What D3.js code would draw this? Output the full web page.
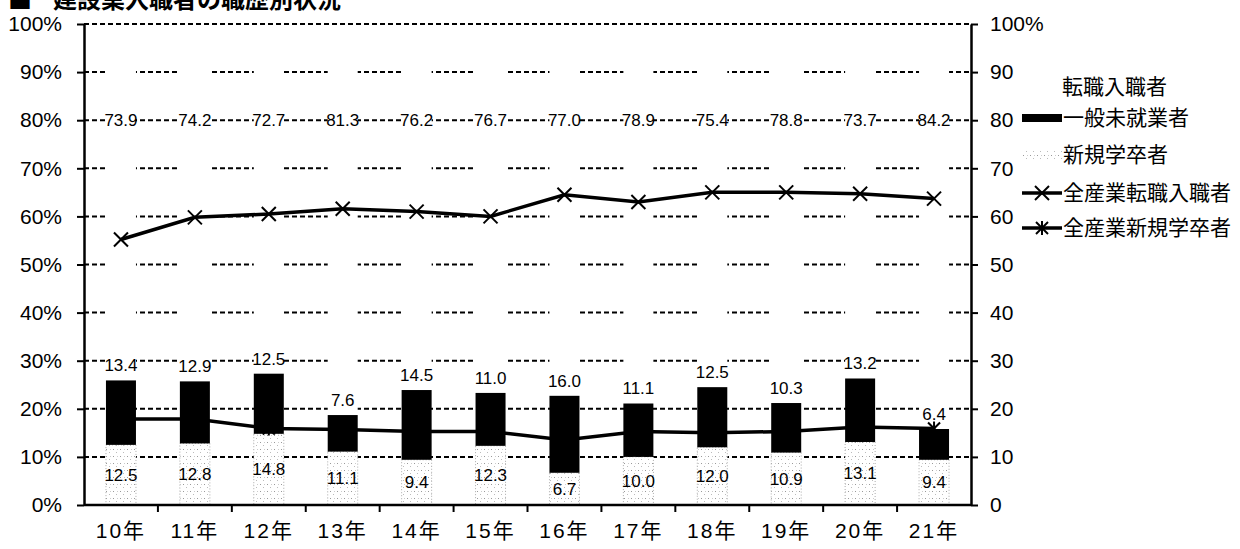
<!DOCTYPE html>
<html><head><meta charset="utf-8">
<script src="https://cdn.jsdelivr.net/npm/d3@7"></script>
<style>
html,body{margin:0;padding:0;background:#fff;}
svg{display:block;}
</style></head>
<body>
<svg id="chart" width="1240" height="549"></svg>
<script>
// ---- data ----
const categories = ["10年","11年","12年","13年","14年","15年","16年","17年","18年","19年","20年","21年"];
const newGrad    = [12.5,12.8,14.8,11.1,9.4,12.3,6.7,10.0,12.0,10.9,13.1,9.4];     // 新規学卒者
const unemployed = [13.4,12.9,12.5,7.6,14.5,11.0,16.0,11.1,12.5,10.3,13.2,6.4];    // 一般未就業者
const jobChange  = [73.9,74.2,72.7,81.3,76.2,76.7,77.0,78.9,75.4,78.8,73.7,84.2];  // 転職入職者
const allIndJobChange = [55.2,59.8,60.5,61.6,61.0,60.0,64.5,63.0,65.0,65.0,64.7,63.7]; // 全産業転職入職者
const allIndNewGrad   = [17.9,17.9,15.9,15.7,15.3,15.3,13.5,15.3,15.0,15.3,16.2,15.9]; // 全産業新規学卒者
const yTicks = [0,10,20,30,40,50,60,70,80,90,100];
const titleText = "建設業入職者の職歴別状況";
const legendTitle = "転職入職者";
const legendItems = ["一般未就業者","新規学卒者","全産業転職入職者","全産業新規学卒者"];

const svg = d3.select("#chart");
const numFont = "'Liberation Sans', Arial, sans-serif";
const jpFont = "'Noto Sans CJK JP', 'Noto Sans', sans-serif";

const x = d3.scaleBand().domain(categories).range([84, 971]).paddingInner(0);
const y = d3.scaleLinear().domain([0, 100]).range([505, 24]);
const barW = 30;
const cx = c => x(c) + x.bandwidth() / 2;

// pattern for 新規学卒者
const defs = svg.append("defs");
const pat = defs.append("pattern").attr("id","dots").attr("patternUnits","userSpaceOnUse")
  .attr("width",7).attr("height",7);
pat.append("rect").attr("width",7).attr("height",7).attr("fill","#fff");
pat.append("rect").attr("x",1).attr("y",1).attr("width",1).attr("height",1).attr("fill","#999");
pat.append("rect").attr("x",4).attr("y",4).attr("width",1).attr("height",1).attr("fill","#bbb");
pat.append("rect").attr("x",5).attr("y",1).attr("width",1).attr("height",1).attr("fill","#ccc");

// title (cut off at top, as in the source)
svg.append("text").attr("x",8).attr("y",8).attr("font-family",jpFont).attr("font-size",24)
  .attr("font-weight","bold").text("■");
svg.append("text").attr("x",53).attr("y",8).attr("font-family",jpFont).attr("font-size",24)
  .attr("font-weight","bold").text(titleText);

// gridlines (below bars)
const grid = svg.append("g");
grid.selectAll("line").data(yTicks.filter(d => d > 0 && d < 100)).join("line")
  .attr("x1", 84).attr("x2", 971).attr("y1", d => y(d)).attr("y2", d => y(d))
  .attr("stroke","#000").attr("stroke-width",2).attr("stroke-dasharray","5 3");

// stacked bars
const rows = categories.map((c,i) => ({c, ng:newGrad[i], un:unemployed[i], jc:jobChange[i]}));
const bars = svg.append("g");
bars.selectAll(".jc").data(rows).join("rect")
  .attr("x", d => cx(d.c) - barW/2).attr("width", barW)
  .attr("y", d => y(Math.min(100, d.ng + d.un + d.jc))).attr("height", d => y(d.ng + d.un) - y(Math.min(100, d.ng + d.un + d.jc)))
  .attr("fill","#fff");
bars.selectAll(".ng").data(rows).join("rect")
  .attr("x", d => cx(d.c) - barW/2).attr("width", barW)
  .attr("y", d => y(d.ng)).attr("height", d => y(0) - y(d.ng))
  .attr("fill","url(#dots)").attr("stroke","#aaa").attr("stroke-width",1).attr("stroke-dasharray","1 2");
bars.selectAll(".un").data(rows).join("rect")
  .attr("x", d => cx(d.c) - barW/2).attr("width", barW)
  .attr("y", d => y(d.ng + d.un)).attr("height", d => y(d.ng) - y(d.ng + d.un))
  .attr("fill","#000");

// top gridline
svg.append("line").attr("x1",84).attr("x2",971).attr("y1",y(100)).attr("y2",y(100))
  .attr("stroke","#000").attr("stroke-width",2).attr("stroke-dasharray","5 3");

// lines
const lineGen = d3.line().x((d,i) => cx(categories[i])).y(d => y(d));
svg.append("path").datum(allIndJobChange).attr("d", lineGen)
  .attr("fill","none").attr("stroke","#000").attr("stroke-width",3.5);
svg.append("path").datum(allIndNewGrad).attr("d", lineGen)
  .attr("fill","none").attr("stroke","#000").attr("stroke-width",3.5);

function crossMarker(g, px, py, s){
  g.append("line").attr("x1",px-s).attr("y1",py-s).attr("x2",px+s).attr("y2",py+s).attr("stroke","#000").attr("stroke-width",2);
  g.append("line").attr("x1",px-s).attr("y1",py+s).attr("x2",px+s).attr("y2",py-s).attr("stroke","#000").attr("stroke-width",2);
}
function starMarker(g, px, py, s){
  crossMarker(g, px, py, s);
  g.append("line").attr("x1",px).attr("y1",py-s-1).attr("x2",px).attr("y2",py+s+1).attr("stroke","#000").attr("stroke-width",2);
}
const mk = svg.append("g");
allIndJobChange.forEach((v,i) => crossMarker(mk, cx(categories[i]), y(v), 7));
allIndNewGrad.forEach((v,i) => starMarker(mk, cx(categories[i]), y(v), 6));

// data labels
const lab = svg.append("g").attr("font-family", numFont).attr("font-size", 17).attr("text-anchor","middle");
lab.selectAll(".l1").data(rows).join("text")
  .attr("x", d => cx(d.c)).attr("y", y(80)).attr("dy","0.35em").text(d => d.jc.toFixed(1));
lab.selectAll(".l2").data(rows).join("text")
  .attr("x", d => cx(d.c)).attr("y", d => y(d.ng + d.un) - 15).attr("dy","0.35em").text(d => d.un.toFixed(1));
lab.selectAll(".l3").data(rows).join("text")
  .attr("x", d => cx(d.c)).attr("y", d => y(d.ng/2)).attr("dy","0.35em").text(d => d.ng.toFixed(1));

// axes
const left = svg.append("g").attr("transform","translate(84,0)")
  .call(d3.axisLeft(y).tickValues(yTicks).tickFormat(d => d + "%").tickSizeInner(7).tickSizeOuter(0).tickPadding(15));
const right = svg.append("g").attr("transform","translate(971,0)")
  .call(d3.axisRight(y).tickValues(yTicks).tickFormat(d => d === 100 ? "100%" : d).tickSizeInner(7).tickSizeOuter(0).tickPadding(12));
[left, right].forEach(g => {
  g.select(".domain").attr("stroke","#000").attr("stroke-width",2.5);
  g.selectAll(".tick line").attr("stroke","#000").attr("stroke-width",2);
  g.selectAll(".tick text").attr("font-family", numFont).attr("font-size", 21).attr("fill","#000");
});
// bottom axis
const bottom = svg.append("g");
bottom.append("line").attr("x1",84).attr("x2",971).attr("y1",y(0)).attr("y2",y(0)).attr("stroke","#000").attr("stroke-width",2.5);
bottom.selectAll(".bt").data(categories.slice(1)).join("line")
  .attr("x1", d => x(d)).attr("x2", d => x(d)).attr("y1", y(0)).attr("y2", y(0) + 7)
  .attr("stroke","#000").attr("stroke-width",2);
bottom.selectAll(".bl").data(categories).join("text")
  .attr("x", d => cx(d)).attr("y", 538).attr("text-anchor","middle")
  .attr("font-family", numFont + ", 'Noto Sans CJK JP'").attr("font-size", 21).attr("letter-spacing", 2).text(d => d);

// legend
const lg = svg.append("g").attr("font-family", jpFont).attr("font-size", 21).attr("fill","#000");
lg.append("text").attr("x",1062).attr("y",87).attr("dy","0.35em").text(legendTitle);
const ly = [118, 155, 193, 228];
lg.append("rect").attr("x",1022).attr("y",ly[0]-4).attr("width",40).attr("height",8).attr("fill","#000");
lg.append("rect").attr("x",1022).attr("y",ly[1]-5).attr("width",40).attr("height",10).attr("fill","url(#dots)");
lg.append("line").attr("x1",1022).attr("x2",1062).attr("y1",ly[2]).attr("y2",ly[2]).attr("stroke","#000").attr("stroke-width",3.5);
crossMarker(lg, 1042, ly[2], 7);
lg.append("line").attr("x1",1022).attr("x2",1062).attr("y1",ly[3]).attr("y2",ly[3]).attr("stroke","#000").attr("stroke-width",3.5);
starMarker(lg, 1042, ly[3], 6);
lg.selectAll(".lt").data(legendItems).join("text")
  .attr("x",1063).attr("y",(d,i) => ly[i]).attr("dy","0.35em").text(d => d);
</script>
</body></html>
